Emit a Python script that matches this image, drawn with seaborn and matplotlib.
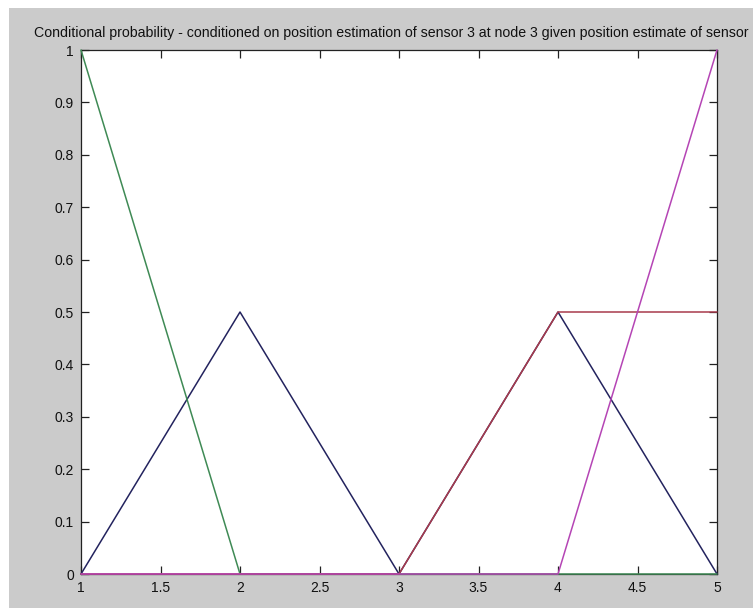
import matplotlib
matplotlib.use("Agg")
import matplotlib.pyplot as plt
import matplotlib.patches as mpatches
import numpy as np
import pandas as pd
import seaborn as sns

# Node positions and the conditional probability curves for each sensor estimate
positions = [1, 2, 3, 4, 5]
prob_blue = [0.0, 0.5, 0.0, 0.5, 0.0]
prob_green = [1.0, 0.0, 0.0, 0.0, 0.0]
prob_red = [0.0, 0.0, 0.0, 0.5, 0.5]
prob_magenta = [0.0, 0.0, 0.0, 0.0, 1.0]

series_names = ["blue", "green", "red", "magenta"]
series_colors = {"blue": "#23235e", "green": "#3f8a55", "red": "#a83a4c", "magenta": "#b545b5"}

x_ticks = [1, 1.5, 2, 2.5, 3, 3.5, 4, 4.5, 5]
x_tick_labels = ["1", "1.5", "2", "2.5", "3", "3.5", "4", "4.5", "5"]
y_ticks = [0, 0.1, 0.2, 0.3, 0.4, 0.5, 0.6, 0.7, 0.8, 0.9, 1]
y_tick_labels = ["0", "0.1", "0.2", "0.3", "0.4", "0.5", "0.6", "0.7", "0.8", "0.9", "1"]

title_text = ("Conditional probability - conditioned on position estimation of sensor 3 "
              "at node 3 given position estimate of sensor")

df = pd.DataFrame({
    "position": positions * 4,
    "probability": prob_blue + prob_green + prob_red + prob_magenta,
    "series": sum([[n] * len(positions) for n in series_names], []),
})

sns.set_theme(style="white")
plt.rcParams["font.family"] = ["Liberation Sans", "DejaVu Sans"]

W, H = 753, 608
fig = plt.figure(figsize=(W / 100, H / 100), dpi=100, facecolor="white")

# grey window background with a thin white strip on the top and left
bg = mpatches.Rectangle((9 / W, 0), 1 - 9 / W, 1 - 8 / H,
                        transform=fig.transFigure, facecolor="#cbcbcb",
                        edgecolor="none", zorder=-10)
fig.add_artist(bg)

left, right, top, bottom = 81, 717, 50, 574
ax = fig.add_axes([left / W, (H - bottom) / H, (right - left) / W, (bottom - top) / H])
ax.set_zorder(1)
ax.set_facecolor("white")

sns.lineplot(data=df, x="position", y="probability", hue="series",
             hue_order=series_names, palette=series_colors, linewidth=1.1,
             legend=False, ax=ax, clip_on=False, zorder=3)

ax.set_xlim(1, 5)
ax.set_ylim(0, 1)
ax.set_xticks(x_ticks)
ax.set_xticklabels(x_tick_labels)
ax.set_yticks(y_ticks)
ax.set_yticklabels(y_tick_labels)
ax.set_xlabel("")
ax.set_ylabel("")

for s in ax.spines.values():
    s.set_visible(True)
    s.set_color("#222222")
    s.set_linewidth(0.9)
    s.set_zorder(2)

ax.tick_params(axis="both", direction="in", length=6, width=0.9, color="#222222",
               labelsize=10, labelcolor="#111111", top=True, right=True,
               bottom=True, left=True, pad=5)

# title sits slightly left of the axes centre, as in the figure window
fig.text(391.5 / W, 1 - 33 / H, title_text, fontsize=10.2, color="#111111",
         ha="center", va="center")

fig.savefig("out.png", dpi=100, facecolor=fig.get_facecolor())
